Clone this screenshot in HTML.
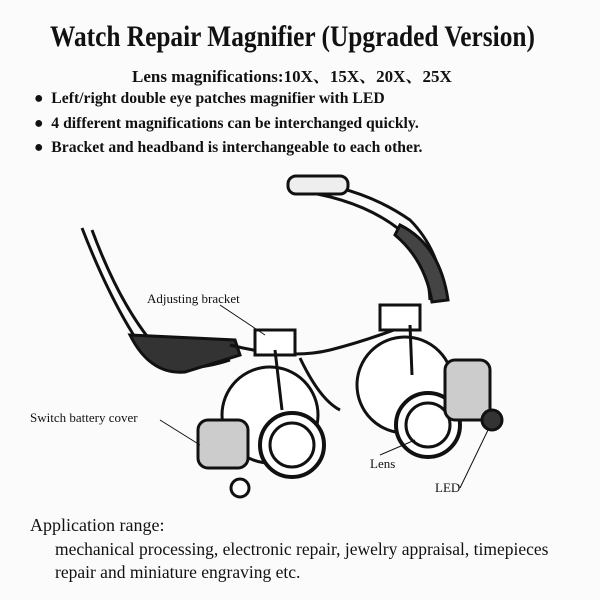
<!DOCTYPE html>
<html><head><meta charset="utf-8"><style>
html,body{margin:0;padding:0;background:#fbfbfb;}
#c{position:relative;width:600px;height:600px;overflow:hidden;background:#fbfbfb;font-family:"Liberation Serif",serif;color:#111;}
.t{position:absolute;white-space:nowrap;}
</style></head><body><div id="c">
<div class="t" style="left:50px;top:20px;font-size:30px;font-weight:bold;transform:scaleX(0.845);transform-origin:0 0;width:600px;">Watch Repair Magnifier (Upgraded Version)</div>
<div class="t" style="left:132px;top:62px;font-size:17px;font-weight:bold;transform:scaleX(1.0);transform-origin:0 0;">Lens magnifications:10X<span style="font-family:'Noto Serif CJK SC',serif">、</span>15X<span style="font-family:'Noto Serif CJK SC',serif">、</span>20X<span style="font-family:'Noto Serif CJK SC',serif">、</span>25X</div>
<div class="t" style="left:34px;top:90px;font-size:16px;font-weight:bold;transform:scaleX(0.98);transform-origin:0 0;">●&nbsp; Left/right double eye patches magnifier with LED</div>
<div class="t" style="left:34px;top:115px;font-size:16px;font-weight:bold;transform:scaleX(0.98);transform-origin:0 0;">●&nbsp; 4 different magnifications can be interchanged quickly.</div>
<div class="t" style="left:34px;top:139px;font-size:16px;font-weight:bold;transform:scaleX(0.98);transform-origin:0 0;">●&nbsp; Bracket and headband is interchangeable to each other.</div>

<svg style="position:absolute;left:0;top:0" width="600" height="600">
<g stroke="#111" stroke-width="3" fill="none">
<path d="M82 228 Q110 300 140 345 Q170 380 230 360" />
<path d="M92 230 Q118 300 150 340 Q180 365 230 350" />
<path d="M130 335 Q150 375 185 372 L240 355 L235 340 Z" fill="#333"/>
<path d="M290 180 Q360 185 410 220 Q440 250 445 300" />
<path d="M292 190 Q360 198 400 230 Q428 258 430 300" />
<path d="M400 225 Q440 245 448 300 L432 302 Q425 260 395 235 Z" fill="#444"/>
<rect x="288" y="176" width="60" height="18" rx="8" fill="#eee"/>
<path d="M230 345 Q290 360 330 350 Q370 340 420 320" />
<path d="M300 358 Q320 400 340 410" />
<circle cx="270" cy="415" r="48" fill="#fff"/>
<circle cx="292" cy="445" r="32" fill="#fff" stroke-width="4"/>
<circle cx="292" cy="445" r="22" fill="#fff"/>
<rect x="198" y="420" width="50" height="48" rx="10" fill="#ccc"/>
<circle cx="240" cy="488" r="9" fill="#fff"/>
<circle cx="405" cy="385" r="48" fill="#fff"/>
<circle cx="428" cy="425" r="32" fill="#fff" stroke-width="4"/>
<circle cx="428" cy="425" r="22" fill="#fff"/>
<rect x="445" y="360" width="45" height="60" rx="10" fill="#ccc"/>
<circle cx="492" cy="420" r="10" fill="#333"/>
<rect x="255" y="330" width="40" height="25" fill="#fff"/>
<rect x="380" y="305" width="40" height="25" fill="#fff"/>
<path d="M275 350 L282 410 M410 325 L412 375"/>
</g>
<g stroke="#111" stroke-width="1" fill="none">
<line x1="220" y1="305" x2="265" y2="335"/>
<line x1="160" y1="420" x2="200" y2="445"/>
<line x1="380" y1="455" x2="415" y2="440"/>
<line x1="460" y1="488" x2="488" y2="430"/>
</g>
<g font-family="Liberation Serif, serif" font-size="13" fill="#111">
<text x="147" y="303">Adjusting bracket</text>
<text x="30" y="422">Switch battery cover</text>
<text x="370" y="468">Lens</text>
<text x="435" y="492">LED</text>
</g>
</svg>

<div class="t" style="left:30px;top:515px;font-size:18px;">Application range:</div>
<div class="t" style="left:55px;top:539px;font-size:17.5px;">mechanical processing, electronic repair, jewelry appraisal, timepieces</div>
<div class="t" style="left:55px;top:562px;font-size:17.5px;">repair and miniature engraving etc.</div>
</div></body></html>
